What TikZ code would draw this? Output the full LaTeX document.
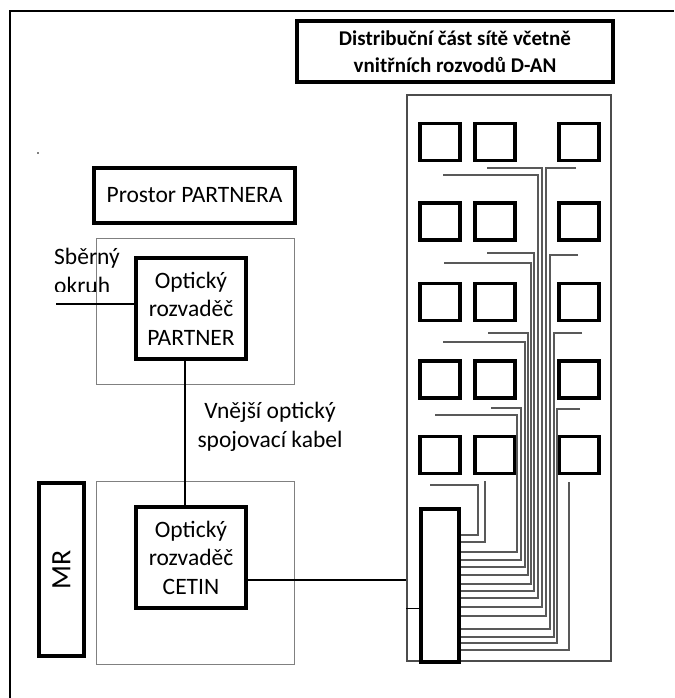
\documentclass[tikz,border=0pt]{standalone}
\usepackage{fontspec}
\setmainfont{Carlito}
\begin{document}
\begin{tikzpicture}[x=1pt,y=-1pt,
  reg/.style={font=\fontsize{23.5}{28.5}\selectfont},
  thickbox/.style={draw, line width=3.5pt, inner sep=0pt, align=center, reg},
  window/.style={draw, line width=3.5pt, minimum width=40pt, minimum height=37pt, inner sep=0pt},
  room/.style={draw=black!50, line width=1pt, inner sep=0pt},
  conn/.style={line width=2pt},
  cable/.style={draw=black!65, line width=1.2pt},
  plain/.style={align=center, inner sep=0pt, reg}]
\useasboundingbox (0,0) rectangle (674,698);
% outer frame
\coordinate (fbl) at (10,698);
\coordinate (ftl) at (10,11);
\coordinate (ftr) at (674,11);
\draw[line width=2.5pt] (fbl) -- (ftl) -- (ftr);
% stray dot
\fill (38,153) circle (0.8pt);
% title
\node[thickbox, minimum width=316pt, minimum height=61pt, font=\fontsize{21}{27.5}\selectfont\bfseries] (title) at (455,51.5) {Distribuční část sítě včetně\\vnitřních rozvodů D-AN};
% building
\node[draw=black!70, line width=1.5pt, minimum width=204pt, minimum height=566pt, inner sep=0pt] (bldg) at (509,378) {};
% windows
\foreach \r/\y in {1/142,2/221.5,3/302,4/379.5,5/455}{
  \foreach \c/\x in {a/440,b/495,c/579}{
    \node[window] (w\r\c) at (\x,\y) {};
  }
}
% cables
\coordinate (distE) at (459,585);
\foreach \sx/\ty/\vx/\tn in {435/415/517/552, 491/408/521/560, 443/342/525/567, 488/333/528/575, 444/263/531/584, 487/253/534/591, 443/175/538/598, 487/168/542/607, 576/168/546/616, 578/255/550/629, 582/333/554/637, 580/409/557/643, 430/485/478/535}{
  \draw[cable] (\sx,\ty) -- (\vx,\ty) -- (\vx,\tn) -- (distE |- 0,\tn);
}
\draw[cable] (485,481) -- (485,542) -- (distE |- 0,542);
\draw[cable] (569,482) -- (569,650) -- (distE |- 0,650);
% distribution box
\node[draw, line width=3.5pt, fill=white, minimum width=38pt, minimum height=153pt, inner sep=0pt] (dist) at (440,585.5) {};
% left side
\node[thickbox, minimum width=201pt, minimum height=55pt] (prostor) at (194.5,195.5) {Prostor PARTNERA};
\node[room, minimum width=198pt, minimum height=146pt] (proom) at (195,311) {};
\node[room, minimum width=198pt, minimum height=183pt] (croom) at (195,572.5) {};
\node[thickbox, minimum width=110pt, minimum height=101pt] (partner) at (191,308.5) {Optický\\rozvaděč\\PARTNER};
\node[thickbox, minimum width=110pt, minimum height=101pt] (cetin) at (191,557.5) {Optický\\rozvaděč\\CETIN};
\node[thickbox, minimum width=45pt, minimum height=173pt] (mr) at (61.5,569.5) {};
\node[font=\fontsize{28}{30}\selectfont, rotate=90, inner sep=0pt] (mrt) at (mr.center) {MR};
\node[plain] (kabel) at (270,427) {Vnější optický\\spojovací kabel};
\node[reg, anchor=base west, inner sep=0pt] (sber1) at (54,264) {Sběrný};
\begin{scope}
  \clip (40,270) rectangle (130,291);
  \node[reg, anchor=base west, inner sep=0pt] (sber2) at (54,293) {okruh};
\end{scope}
% connectors
\coordinate (sbend) at (56,304);
\draw[conn] (sbend) -- (partner.west |- sbend);
\draw[conn] (185,0 |- partner.south) -- (185,0 |- cetin.north);
\coordinate (cl) at (0,580);
\draw[conn] (cetin.east |- cl) -- (bldg.west |- cl);
\coordinate (st) at (0,608);
\draw[line width=1pt] (bldg.west |- st) -- (dist.west |- st);
\end{tikzpicture}
\end{document}
